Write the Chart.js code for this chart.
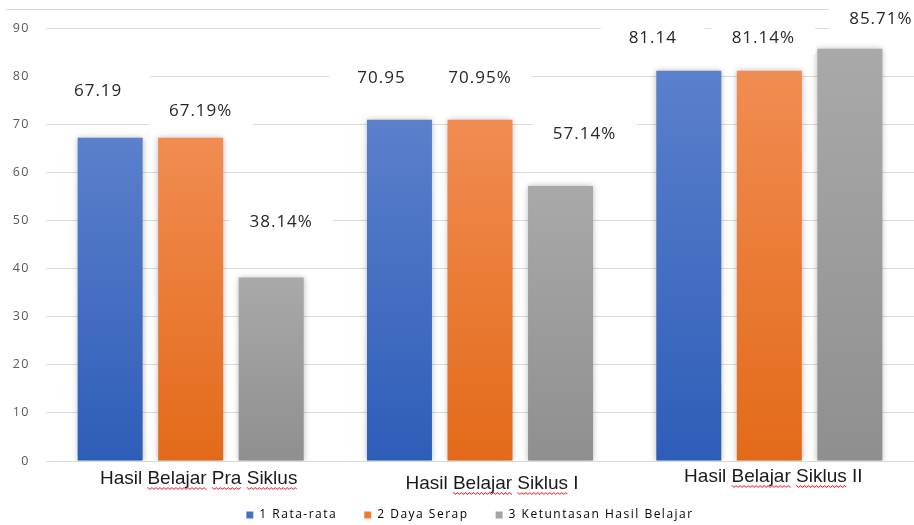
<!DOCTYPE html>
<html>
<head>
<meta charset="utf-8">
<script src="https://cdn.jsdelivr.net/npm/chart.js@4/dist/chart.umd.min.js"></script>
<style>
	html, body { margin: 0; padding: 0; background: #fff; }
	#wrap { width: 914px; height: 525px; }
</style>
</head>
<body>
<div id="wrap"><canvas id="myChart"></canvas></div>
<script>
// data
const categories = ['Hasil Belajar Pra Siklus', 'Hasil Belajar Siklus I', 'Hasil Belajar Siklus II'];
const seriesNames = ['1 Rata-rata', '2 Daya Serap', '3 Ketuntasan Hasil Belajar'];
const rataRata = [67.19, 70.95, 81.14];
const dayaSerap = [67.19, 70.95, 81.14];
const ketuntasan = [38.14, 57.14, 85.71];
const labelSuffix = ['', '%', '%'];
const yMin = 0;
const yMax = 90;
const yStep = 10;

// colours: [top of bar, bottom of bar]
const barColors = [
	['#5b80cc', '#2e5db8'],
	['#f18c52', '#e36a19'],
	['#a9a9a9', '#8f8f8f']
];
const legendColors = ['#4472c4', '#ed7d31', '#a5a5a5'];

function barGradient(top, bottom){
	return function(context){
		const chart = context.chart;
		if (!chart.chartArea || context.type !== 'data') return bottom;
		const y = chart.scales.y.getPixelForValue(context.raw);
		const base = chart.scales.y.getPixelForValue(0);
		const g = chart.ctx.createLinearGradient(0, y, 0, base);
		g.addColorStop(0, top);
		g.addColorStop(1, bottom);
		return g;
	}
}

// the axis and legend text in the picture is letter-spaced
const textSpacing = {
	id: 'textSpacing',
	beforeUpdate(chart){ chart.ctx.letterSpacing = '1.5px'; },
	beforeDraw(chart){ chart.ctx.letterSpacing = '1.5px'; }
};

// the legend sits a little right of centre in the picture
const legendShift = {
	id: 'legendShift',
	afterLayout(chart){
		chart.legend.left += 13;
		chart.legend.right += 13;
	}
};

// soft shadow round the bars
const barShadow = {
	id: 'barShadow',
	beforeDatasetsDraw(chart){
		const ctx = chart.ctx;
		ctx.save();
		ctx.shadowColor = 'rgba(0,0,0,0.28)';
		ctx.shadowBlur = 6;
		ctx.shadowOffsetX = 0;
		ctx.shadowOffsetY = 0;
	},
	afterDatasetsDraw(chart){
		chart.ctx.restore();
	}
};

// thin border line above the plot
const topLine = {
	id: 'topLine',
	beforeDraw(chart){
		const ctx = chart.ctx;
		const y = chart.chartArea.top - 18.5;
		ctx.save();
		ctx.strokeStyle = '#d9d9d9';
		ctx.lineWidth = 1;
		ctx.beginPath();
		ctx.moveTo(6, y);
		ctx.lineTo(chart.width, y);
		ctx.stroke();
		ctx.restore();
	}
};

// value labels on white boxes, offset as in the picture
const valueLabels = {
	id: 'valueLabels',
	afterDatasetsDraw(chart, args, opts){
		const ctx = chart.ctx;
		const spots = [];
		chart.data.datasets.forEach((ds, di) => {
			const meta = chart.getDatasetMeta(di);
			meta.data.forEach((bar, i) => {
				const off = opts.offsets[di][i];
				spots.push({x: bar.x + off[0], y: bar.y + off[1], text: ds.data[i].toFixed(2) + labelSuffix[di]});
			});
		});
		ctx.save();
		ctx.fillStyle = '#fff';
		spots.forEach(s => ctx.fillRect(s.x - 52, s.y - 16, 104, 32));
		ctx.fillStyle = '#262626';
		ctx.font = '17px "Open Sans"';
		ctx.letterSpacing = '1px';
		ctx.textAlign = 'center';
		ctx.textBaseline = 'middle';
		spots.forEach(s => ctx.fillText(s.text, s.x, s.y));
		ctx.restore();
	}
};

// category names under the axis, with the spell-check squiggle
const categoryLabels = {
	id: 'categoryLabels',
	afterDraw(chart, args, opts){
		const ctx = chart.ctx;
		const xScale = chart.scales.x;
		ctx.save();
		ctx.letterSpacing = '0px';
		ctx.font = '19px "Liberation Sans"';
		ctx.textBaseline = 'alphabetic';
		ctx.textAlign = 'left';
		categories.forEach((cat, i) => {
			const off = opts.offsets[i];
			const w = ctx.measureText(cat).width;
			const left = xScale.getPixelForValue(i) + off[0] - w / 2;
			const base = chart.chartArea.bottom + off[1];
			ctx.fillStyle = '#1a1a1a';
			ctx.fillText(cat, left, base);
			// squiggle under the words a checker would flag
			const words = cat.split(' ');
			let pos = 0;
			ctx.strokeStyle = '#e8262a';
			ctx.lineWidth = 1;
			words.forEach((word, wi) => {
				const start = left + ctx.measureText(cat.slice(0, pos)).width;
				const ww = ctx.measureText(word).width;
				pos += word.length + 1;
				if (wi === 0 || /^I+$/.test(word)) return;
				ctx.beginPath();
				for (let x = 0; x <= ww; x += 1) {
					const y = base + 4 + ((Math.floor(x / 2) % 2) ? 1.2 : -0.2);
					if (x === 0) ctx.moveTo(start + x, y); else ctx.lineTo(start + x, y);
				}
				ctx.stroke();
			});
		});
		ctx.restore();
	}
};

const ctx = document.getElementById('myChart').getContext('2d');
const myChart = new Chart(ctx, {
	type: 'bar',
	data: {
		labels: categories,
		datasets: [
			{label: seriesNames[0], data: rataRata, backgroundColor: barGradient(barColors[0][0], barColors[0][1])},
			{label: seriesNames[1], data: dayaSerap, backgroundColor: barGradient(barColors[1][0], barColors[1][1])},
			{label: seriesNames[2], data: ketuntasan, backgroundColor: barGradient(barColors[2][0], barColors[2][1])}
		]
	},
	options: {
		responsive: true,
		maintainAspectRatio: false,
		animation: false,
		events: [],
		categoryPercentage: 0.835,
		barPercentage: 0.807,
		layout: {
			padding: {top: 28, right: 0, bottom: -6, left: 0}
		},
		scales: {
			x: {
				grid: {display: false},
				border: {display: false},
				ticks: {display: false},
				afterFit(scale){ scale.height = 21; }
			},
			y: {
				min: yMin,
				max: yMax,
				ticks: {
					stepSize: yStep,
					padding: 16,
					color: '#595959',
					font: {family: '"Open Sans"', size: 12.5}
				},
				grid: {color: '#d9d9d9', drawTicks: false},
				border: {display: false},
				afterFit(scale){ scale.width = 46; }
			}
		},
		plugins: {
			legend: {
				position: 'bottom',
				labels: {
					boxWidth: 7,
					boxHeight: 7,
					padding: 27,
					color: '#595959',
					font: {family: '"Open Sans"', size: 12},
					generateLabels(chart){
						return chart.data.datasets.map((ds, i) => ({
							text: ds.label,
							fillStyle: legendColors[i],
							strokeStyle: legendColors[i],
							lineWidth: 0,
							datasetIndex: i
						}));
					}
				}
			},
			tooltip: {enabled: false},
			valueLabels: {
				offsets: [
					[[-12, -47], [-18, -41], [-36, -32]],
					[[10, -27], [0, -41], [-6, -32]],
					[[10, -55], [24, -52], [31, -29]]
				]
			},
			categoryLabels: {
				offsets: [[8, 23], [12, 28], [4, 21]]
			}
		}
	},
	plugins: [textSpacing, legendShift, topLine, barShadow, valueLabels, categoryLabels]
});
</script>
</body>
</html>
